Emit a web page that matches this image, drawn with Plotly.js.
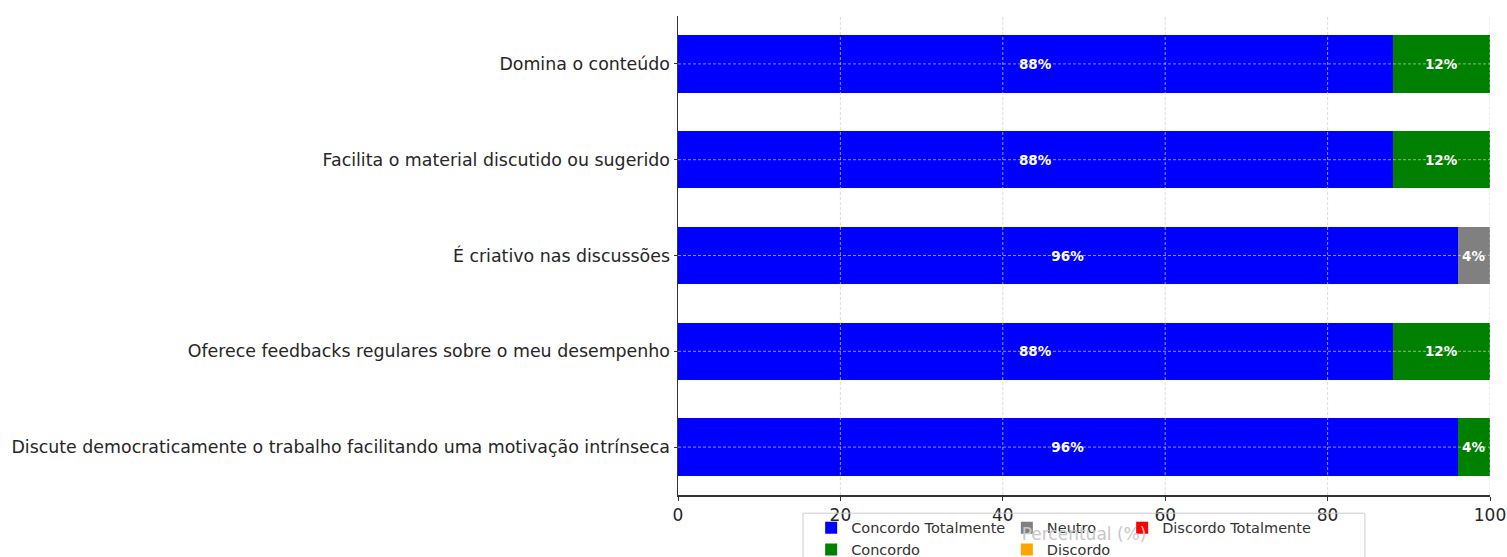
<!DOCTYPE html>
<html>
<head>
<meta charset="utf-8">
<script src="https://cdn.plot.ly/plotly-3.0.1.min.js"></script>
<style>html,body{margin:0;padding:0;background:#fff;}#chart{width:1507px;height:557px;}</style>
</head>
<body>
<div id="chart"></div>
<script>
// Categories, top to bottom
const categories = [
  "Domina o conteúdo",
  "Facilita o material discutido ou sugerido",
  "É criativo nas discussões",
  "Oferece feedbacks regulares sobre o meu desempenho",
  "Discute democraticamente o trabalho facilitando uma motivação intrínseca"
];
// Series values (%)
const concordoTotalmente = [88, 88, 96, 88, 96];
const concordo           = [12, 12, 0, 12, 4];
const neutro             = [0, 0, 4, 0, 0];
const discordo           = [0, 0, 0, 0, 0];
const discordoTotalmente = [0, 0, 0, 0, 0];
const xTicks = [0, 20, 40, 60, 80, 100];

const seriesNames = ["Concordo Totalmente", "Concordo", "Neutro", "Discordo", "Discordo Totalmente"];
const seriesValues = [concordoTotalmente, concordo, neutro, discordo, discordoTotalmente];
const seriesColors = ["#0000ff", "#008000", "#808080", "#ffa500", "#ff0000"];
const legendIds = ["legend", "legend", "legend2", "legend2", "legend3"];

const FONT = "DejaVu Sans, Verdana, sans-serif";

const traces = seriesNames.map((name, i) => ({
  type: "bar",
  orientation: "h",
  name: name,
  x: seriesValues[i],
  y: categories,
  width: 0.6,
  marker: {color: seriesColors[i], line: {width: 0}},
  text: seriesValues[i].map(v => v > 0 ? v + "%" : ""),
  textposition: "inside",
  insidetextanchor: "middle",
  constraintext: "none",
  textangle: 0,
  textfont: {family: FONT, size: 13.5, color: "#ffffff", weight: "bold"},
  hoverinfo: "skip",
  legend: legendIds[i]
}));

const shapes = [];
const gridColor = "rgba(205,205,205,0.7)";
xTicks.slice(1).forEach(t => shapes.push({
  type: "line", xref: "x", yref: "paper", x0: t, x1: t, y0: 0, y1: 1,
  line: {color: gridColor, width: 1, dash: "3px,2px"}, layer: "above"
}));
categories.forEach(c => shapes.push({
  type: "line", xref: "paper", yref: "y", x0: 0, x1: 1, y0: c, y1: c,
  line: {color: gridColor, width: 1, dash: "3px,2px"}, layer: "above"
}));
// legend frame
shapes.push({
  type: "rect", xref: "paper", yref: "paper",
  x0: 0.154, x1: 0.846, y0: -0.16, y1: -0.038,
  line: {color: "#cccccc", width: 1}, fillcolor: "rgba(255,255,255,0)", layer: "above"
});

const legendBase = {
  orientation: "v", yanchor: "top", xanchor: "left", y: -0.035,
  bgcolor: "rgba(0,0,0,0)", borderwidth: 0,
  font: {family: FONT, size: 14.5, color: "#333333"},
  tracegroupgap: 0, traceorder: "normal"
};

const layout = {
  width: 1507, height: 557,
  margin: {l: 678, r: 17, t: 16, b: 62, autoexpand: false},
  paper_bgcolor: "#ffffff", plot_bgcolor: "#ffffff",
  barmode: "stack",
  bargap: 0.4,
  font: {family: FONT, color: "#262626"},
  xaxis: {
    range: [0, 100],
    tickvals: xTicks,
    ticktext: xTicks.map(String),
    showgrid: false, zeroline: false,
    showline: true, linecolor: "#333333", linewidth: 1.5,
    ticks: "outside", ticklen: 4, tickcolor: "#333333",
    tickfont: {family: FONT, size: 17, color: "#262626"},
    title: {text: "Percentual (%)", font: {family: FONT, size: 17, color: "#c8c8c8"}, standoff: 4},
    automargin: false,
    fixedrange: true
  },
  yaxis: {
    type: "category",
    categoryorder: "array", categoryarray: categories,
    autorange: "reversed",
    showgrid: false, zeroline: false,
    showline: true, linecolor: "#333333", linewidth: 1.5,
    ticks: "outside", ticklen: 3, tickcolor: "#333333",
    tickfont: {family: FONT, size: 17.4, color: "#262626"},
    automargin: false,
    fixedrange: true
  },
  shapes: shapes,
  legend: Object.assign({}, legendBase, {x: 0.164}),
  legend2: Object.assign({}, legendBase, {x: 0.405}),
  legend3: Object.assign({}, legendBase, {x: 0.547}),
  showlegend: true
};

Plotly.newPlot("chart", traces, layout, {displayModeBar: false, staticPlot: true});
</script>
</body>
</html>
